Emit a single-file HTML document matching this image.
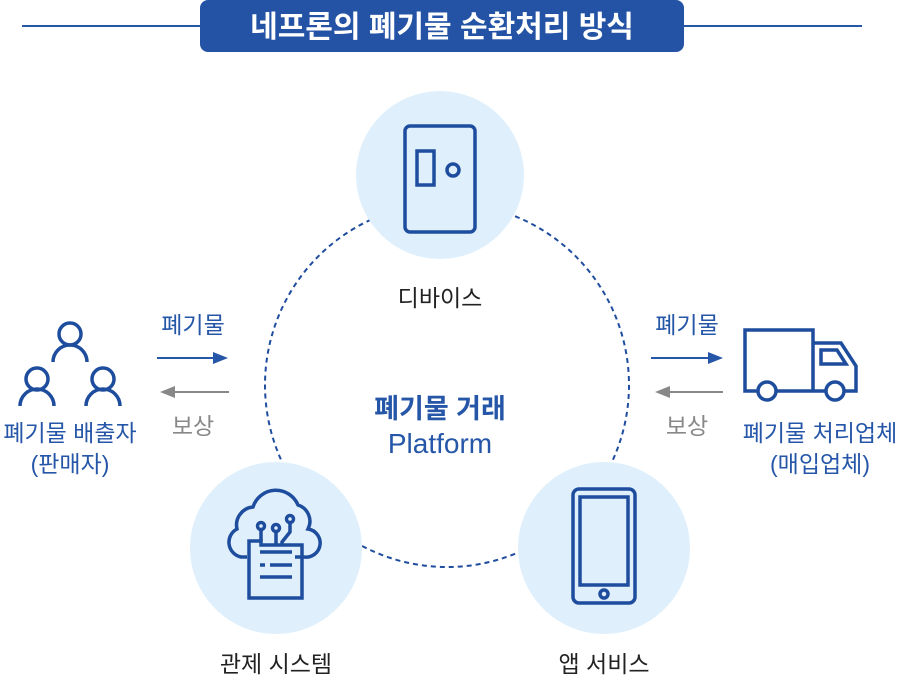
<!DOCTYPE html>
<html><head><meta charset="utf-8"><style>
body{margin:0;background:#fff;width:900px;height:678px;overflow:hidden;font-family:"Liberation Sans","Noto Sans CJK KR",sans-serif}
</style></head><body>
<svg width="900" height="678" viewBox="0 0 900 678" xmlns="http://www.w3.org/2000/svg" font-family="Liberation Sans, Noto Sans CJK KR, sans-serif">
<line x1="22" y1="26" x2="210" y2="26" stroke="#2556a8" stroke-width="2"/>
<line x1="676" y1="26" x2="862" y2="26" stroke="#2556a8" stroke-width="2"/>
<rect x="200" y="0" width="484" height="52" rx="8" fill="#2453a6"/>
<text x="442" y="37" text-anchor="middle" fill="#fff" font-size="30" font-weight="bold">네프론의 폐기물 순환처리 방식</text>

<circle cx="447" cy="385" r="182" fill="none" stroke="#1f4d9e" stroke-width="2" stroke-dasharray="5,4"/>

<circle cx="440" cy="175" r="84" fill="#dff0fc"/>
<circle cx="276" cy="548" r="86" fill="#dff0fc"/>
<circle cx="604" cy="548" r="86" fill="#dff0fc"/>

<g fill="none" stroke="#1f4d9e" stroke-width="3.5">
<rect x="405" y="126" width="70" height="106" rx="5"/>
<rect x="417" y="151" width="17" height="34"/>
<circle cx="453" cy="170" r="6"/>
<rect x="573" y="489" width="62" height="114" rx="6"/>
<rect x="580" y="497" width="48" height="88"/>
<circle cx="604" cy="594" r="4"/>
<path d="M247 557 h-6 a15 15 0 0 1 -4 -28 a18 18 0 0 1 16 -22 a24 24 0 0 1 45 -2 a17 17 0 0 1 10 24 a14 14 0 0 1 -4 28 h-9"/>
<path d="M249 541 h12 v4 h41 v53 h-53 z"/>
<path d="M260 552 h32 M260 565 h5 M270 565 h22 M260 577 h32"/>
<path d="M261 530 v11 M276 532 v13 M290 523 v9 l-8 10 v3"/>
<circle cx="261" cy="526" r="3.5"/><circle cx="276" cy="528" r="3.5"/><circle cx="290" cy="519" r="3.5"/>
<circle cx="70" cy="334" r="11"/><path d="M53 362 a17 17 0 0 1 34 0"/>
<circle cx="37" cy="379" r="11"/><path d="M20 406 a17 17 0 0 1 34 0"/>
<circle cx="103" cy="379" r="11"/><path d="M86 406 a17 17 0 0 1 34 0"/>
<path d="M745 330 h68 v61 h-68 z M813 343 h28 l15 23 v25 h-43"/>
<path d="M821 350 h16 l9 14 h-25 z"/>
</g>
<g fill="#fff" stroke="#1f4d9e" stroke-width="3.5"><circle cx="767" cy="391" r="9"/><circle cx="835" cy="391" r="9"/></g>

<line x1="157" y1="358" x2="215" y2="358" stroke="#2556a8" stroke-width="2"/>
<path d="M228 358 l-15 -6 v12 z" fill="#2556a8"/>
<line x1="175" y1="392" x2="229" y2="392" stroke="#888" stroke-width="2"/>
<path d="M160 392 l15 -6 v12 z" fill="#888"/>
<line x1="651" y1="358" x2="710" y2="358" stroke="#2556a8" stroke-width="2"/>
<path d="M723 358 l-15 -6 v12 z" fill="#2556a8"/>
<line x1="670" y1="392" x2="723" y2="392" stroke="#888" stroke-width="2"/>
<path d="M655 392 l15 -6 v12 z" fill="#888"/>

<g font-size="23" text-anchor="middle">
<text x="193" y="333" fill="#2556a8">폐기물</text>
<text x="193" y="434" fill="#888">보상</text>
<text x="687" y="333" fill="#2556a8">폐기물</text>
<text x="687" y="434" fill="#888">보상</text>
<text x="70" y="441" fill="#2556a8">폐기물 배출자</text>
<text x="70" y="472" fill="#2556a8">(판매자)</text>
<text x="820" y="441" fill="#2556a8">폐기물 처리업체</text>
<text x="820" y="472" fill="#2556a8">(매입업체)</text>
<text x="440" y="306" fill="#222">디바이스</text>
<text x="276" y="672" fill="#222">관제 시스템</text>
<text x="604" y="672" fill="#222">앱 서비스</text>
<text x="440" y="418" fill="#2556a8" font-size="27" font-weight="bold">폐기물 거래</text>
<text x="440" y="453" fill="#2556a8" font-size="28">Platform</text>
</g>
</svg>
</body></html>
